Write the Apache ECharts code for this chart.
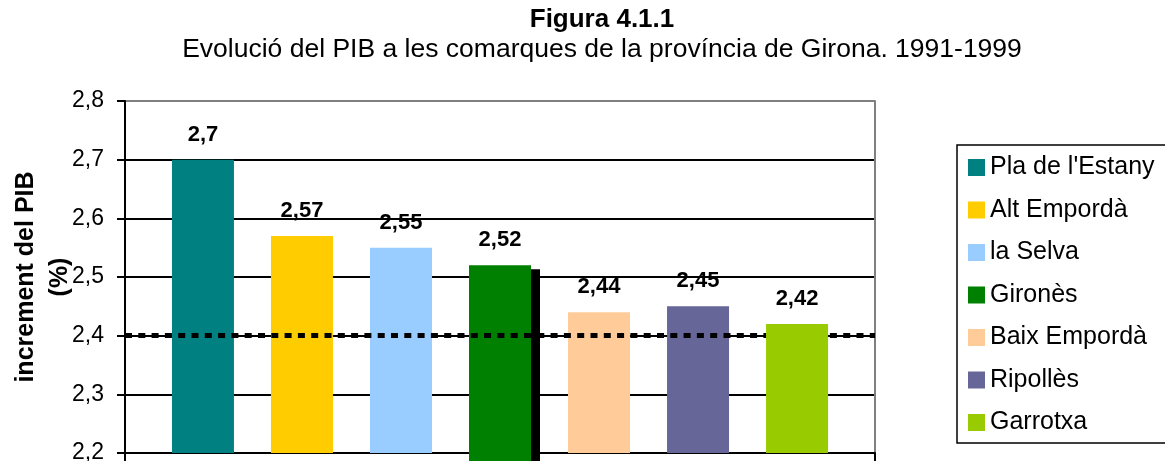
<!DOCTYPE html>
<html>
<head>
<meta charset="utf-8">
<script src="https://cdn.jsdelivr.net/npm/echarts@6/dist/echarts.min.js"></script>
<style>
html,body{margin:0;padding:0;background:#fff;}
#chart{width:1165px;height:461px;}
</style>
</head>
<body>
<div id="chart"></div>
<script>
// ---- data ----
const comarques = ["Pla de l'Estany", "Alt Empordà", "la Selva", "Gironès", "Baix Empordà", "Ripollès", "Garrotxa"];
const increment = [2.7, 2.57, 2.55, 2.52, 2.44, 2.45, 2.42];
const referencia = 2.4;
const yTicks = [2.2, 2.3, 2.4, 2.5, 2.6, 2.7, 2.8];
const titol = "Figura 4.1.1";
const subtitol = "Evolució del PIB a les comarques de la província de Girona. 1991-1999";
const nomEix = "increment del PIB\n(%)";

// ---- styles ----
const palette = ["#008080", "#FFCC00", "#99CCFF", "#008000", "#FFCC99", "#666699", "#99CC00"];
const FONT = "'Liberation Sans', Arial, Helvetica, sans-serif";
const fmt = v => String(v).replace('.', ',');

const chart = echarts.init(document.getElementById('chart'), null, {renderer: 'canvas'});

const series = comarques.map((name, i) => {
  const s = {
    name: name,
    type: 'bar',
    data: [increment[i]],
    barWidth: 62,
    barGap: '59.7%',
    itemStyle: {color: palette[i]},
    label: {
      show: true,
      position: 'top',
      distance: 14,
      fontFamily: FONT,
      fontWeight: 'bold',
      fontSize: 22,
      color: '#000',
      formatter: p => fmt(p.value)
    },
    animation: false
  };
  if (name === 'Gironès') {
    s.clip = false;
    s.itemStyle = {color: palette[i], shadowColor: '#000', shadowBlur: 0, shadowOffsetX: 9, shadowOffsetY: 4};
  }
  if (i === comarques.length - 1) {
    s.z = 5;
    s.markLine = {
      silent: true,
      symbol: ['none', 'none'],
      label: {show: false},
      lineStyle: {color: '#000', width: 5, type: [7, 6.3]},
      data: [{yAxis: referencia}],
      animation: false
    };
  }
  return s;
});

chart.setOption({
  backgroundColor: '#fff',
  animation: false,
  title: [
    {text: titol, left: 597, top: 2, textAlign: 'center',
     textStyle: {fontFamily: FONT, fontWeight: 'bold', fontSize: 26, color: '#000'}},
    {text: subtitol, left: 597, top: 31, textAlign: 'center',
     textStyle: {fontFamily: FONT, fontWeight: 'normal', fontSize: 26.5, color: '#000'}}
  ],
  legend: {
    orient: 'vertical',
    left: 957,
    top: 145,
    height: 300,
    icon: 'rect',
    itemWidth: 17,
    itemHeight: 17,
    itemGap: 17.5,
    padding: [10, 40, 8, 11],
    borderColor: '#000',
    borderWidth: 1.5,
    textStyle: {fontFamily: FONT, fontSize: 25, color: '#000'},
    data: comarques
  },
  grid: {left: 125, right: 290, top: 101, bottom: 8, containLabel: false, outerBoundsMode: 'none'},
  xAxis: {
    type: 'category',
    data: [''],
    axisLine: {lineStyle: {color: '#000', width: 2}},
    axisTick: {show: true, length: 8, lineStyle: {color: '#000', width: 2}},
    axisLabel: {show: false},
    splitLine: {show: false}
  },
  yAxis: [{
    type: 'value',
    min: yTicks[0],
    max: yTicks[yTicks.length - 1],
    interval: 0.1,
    name: nomEix,
    nameLocation: 'middle',
    nameRotate: 90,
    nameGap: 48,
    nameMoveOverlap: false,
    nameTextStyle: {fontFamily: FONT, fontWeight: 'bold', fontSize: 25, color: '#000', lineHeight: 34},
    axisLine: {show: true, lineStyle: {color: '#000', width: 2}},
    axisTick: {show: true, inside: false, length: 8, lineStyle: {color: '#000', width: 2}},
    axisLabel: {fontFamily: FONT, fontSize: 23, color: '#000', margin: 21,
      formatter: v => fmt(Math.round(v * 10) / 10)},
    splitLine: {show: true, lineStyle: {color: ['#000', '#000', '#000', '#000', '#000', '#000', '#808080'], width: 2}}
  }, {
    type: 'value',
    position: 'right',
    min: yTicks[0],
    max: yTicks[yTicks.length - 1],
    interval: 0.1,
    axisLine: {show: true, lineStyle: {color: '#808080', width: 2}},
    axisTick: {show: false},
    axisLabel: {show: false},
    splitLine: {show: false}
  }],
  series: series
});
</script>
</body>
</html>
